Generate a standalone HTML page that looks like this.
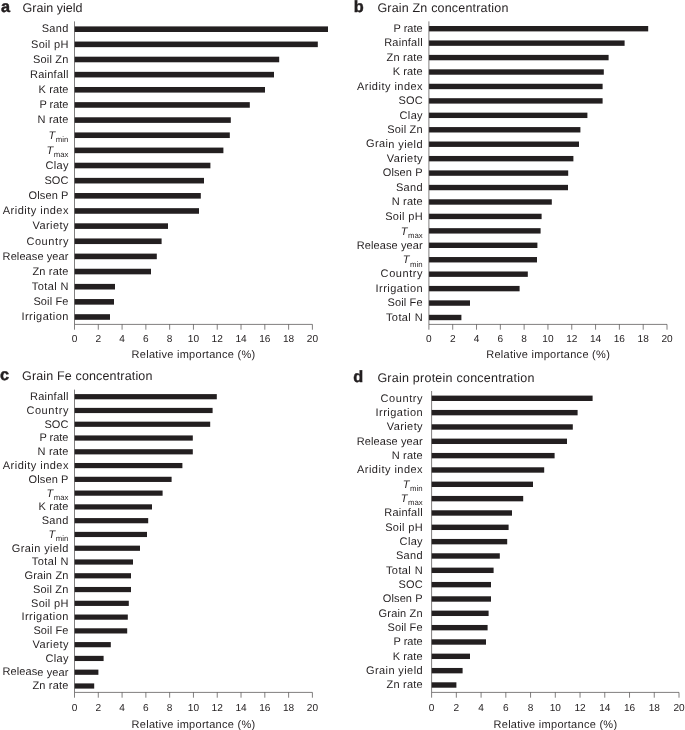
<!DOCTYPE html>
<html lang="en"><head><meta charset="utf-8"><title>Relative importance of predictors</title>
<style>
html,body{margin:0;padding:0;background:#fff;}
svg{display:block;opacity:0.999;will-change:transform;}
text{font-family:"Liberation Sans",sans-serif;fill:#231f20;text-rendering:geometricPrecision;}
.lb{font-size:11px;text-anchor:end;}
.ti{font-size:12.5px;}
.lt{font-size:16.3px;font-weight:bold;stroke:#231f20;stroke-width:0.45;}
.tk{font-size:10.1px;text-anchor:middle;}
.al{font-size:11px;text-anchor:middle;}
.it{font-size:11px;font-style:italic;text-anchor:end;}
.sb{font-size:7.8px;text-anchor:end;}
.bar{fill:#231f20;}
.ax{stroke:#4a4748;stroke-width:0.7;fill:none;}
</style></head><body>
<svg width="685" height="730" viewBox="0 0 685 730">
<rect x="0" y="0" width="685" height="730" fill="#ffffff"/>
<g>
<text class="lt" x="1.0" y="12.0" transform="rotate(0.025 1.0 12.0)">a</text>
<text class="ti" x="22.6" y="12.0" transform="rotate(0.025 22.6 12.0)" textLength="59.8" lengthAdjust="spacing">Grain yield</text>
<rect class="bar" x="74.5" y="26.40" width="253.5" height="5.6"/>
<text class="lb" x="68.4" y="32.50" transform="rotate(0.025 68.4 32.5)" textLength="26.7" lengthAdjust="spacing">Sand</text>
<rect class="bar" x="74.5" y="41.55" width="243.3" height="5.6"/>
<text class="lb" x="68.4" y="47.65" transform="rotate(0.025 68.4 47.6)" textLength="37.4" lengthAdjust="spacing">Soil pH</text>
<rect class="bar" x="74.5" y="56.69" width="204.7" height="5.6"/>
<text class="lb" x="68.4" y="62.79" transform="rotate(0.025 68.4 62.8)" textLength="35.4" lengthAdjust="spacing">Soil Zn</text>
<rect class="bar" x="74.5" y="71.84" width="199.5" height="5.6"/>
<text class="lb" x="68.4" y="77.94" transform="rotate(0.025 68.4 77.9)" textLength="38.4" lengthAdjust="spacing">Rainfall</text>
<rect class="bar" x="74.5" y="86.99" width="190.5" height="5.6"/>
<text class="lb" x="68.4" y="93.09" transform="rotate(0.025 68.4 93.1)" textLength="29.8" lengthAdjust="spacing">K rate</text>
<rect class="bar" x="74.5" y="102.14" width="175.3" height="5.6"/>
<text class="lb" x="68.4" y="108.23" transform="rotate(0.025 68.4 108.2)" textLength="29.0" lengthAdjust="spacing">P rate</text>
<rect class="bar" x="74.5" y="117.28" width="156.3" height="5.6"/>
<text class="lb" x="68.4" y="123.38" transform="rotate(0.025 68.4 123.4)" textLength="30.8" lengthAdjust="spacing">N rate</text>
<rect class="bar" x="74.5" y="132.43" width="155.3" height="5.6"/>
<text class="sb" x="68.4" y="142.03" transform="rotate(0.025 68.4 142.0)" textLength="12.6" lengthAdjust="spacing">min</text>
<text class="it" x="55.2" y="138.93" transform="rotate(0.025 55.2 138.9)">T</text>
<rect class="bar" x="74.5" y="147.58" width="148.9" height="5.6"/>
<text class="sb" x="68.4" y="157.18" transform="rotate(0.025 68.4 157.2)" textLength="14.6" lengthAdjust="spacing">max</text>
<text class="it" x="53.2" y="154.08" transform="rotate(0.025 53.2 154.1)">T</text>
<rect class="bar" x="74.5" y="162.72" width="135.9" height="5.6"/>
<text class="lb" x="68.4" y="168.82" transform="rotate(0.025 68.4 168.8)" textLength="23.0" lengthAdjust="spacing">Clay</text>
<rect class="bar" x="74.5" y="177.87" width="129.5" height="5.6"/>
<text class="lb" x="68.4" y="183.97" transform="rotate(0.025 68.4 184.0)" textLength="24.0" lengthAdjust="spacing">SOC</text>
<rect class="bar" x="74.5" y="193.02" width="126.3" height="5.6"/>
<text class="lb" x="68.4" y="199.12" transform="rotate(0.025 68.4 199.1)" textLength="39.8" lengthAdjust="spacing">Olsen P</text>
<rect class="bar" x="74.5" y="208.16" width="124.5" height="5.6"/>
<text class="lb" x="68.4" y="214.26" transform="rotate(0.025 68.4 214.3)" textLength="65.6" lengthAdjust="spacing">Aridity index</text>
<rect class="bar" x="74.5" y="223.31" width="93.5" height="5.6"/>
<text class="lb" x="68.4" y="229.41" transform="rotate(0.025 68.4 229.4)" textLength="35.8" lengthAdjust="spacing">Variety</text>
<rect class="bar" x="74.5" y="238.46" width="87.1" height="5.6"/>
<text class="lb" x="68.4" y="244.56" transform="rotate(0.025 68.4 244.6)" textLength="42.0" lengthAdjust="spacing">Country</text>
<rect class="bar" x="74.5" y="253.61" width="82.3" height="5.6"/>
<text class="lb" x="68.4" y="259.71" transform="rotate(0.025 68.4 259.7)" textLength="65.8" lengthAdjust="spacing">Release year</text>
<rect class="bar" x="74.5" y="268.75" width="76.5" height="5.6"/>
<text class="lb" x="68.4" y="274.85" transform="rotate(0.025 68.4 274.9)" textLength="36.0" lengthAdjust="spacing">Zn rate</text>
<rect class="bar" x="74.5" y="283.90" width="40.5" height="5.6"/>
<text class="lb" x="68.4" y="290.00" transform="rotate(0.025 68.4 290.0)" textLength="36.6" lengthAdjust="spacing">Total N</text>
<rect class="bar" x="74.5" y="299.05" width="39.5" height="5.6"/>
<text class="lb" x="68.4" y="305.15" transform="rotate(0.025 68.4 305.1)" textLength="35.0" lengthAdjust="spacing">Soil Fe</text>
<rect class="bar" x="74.5" y="314.19" width="35.5" height="5.6"/>
<text class="lb" x="68.4" y="320.29" transform="rotate(0.025 68.4 320.3)" textLength="47.0" lengthAdjust="spacing">Irrigation</text>
<path class="ax" d="M74.5 21.4V324.4H312.4M74.50 324.4v5.3M98.29 324.4v5.3M122.08 324.4v5.3M145.87 324.4v5.3M169.66 324.4v5.3M193.45 324.4v5.3M217.24 324.4v5.3M241.03 324.4v5.3M264.82 324.4v5.3M288.61 324.4v5.3M312.40 324.4v5.3"/>
<text class="tk" x="74.50" y="341.8" transform="rotate(0.025 74.5 341.8)">0</text>
<text class="tk" x="98.29" y="341.8" transform="rotate(0.025 98.3 341.8)">2</text>
<text class="tk" x="122.08" y="341.8" transform="rotate(0.025 122.1 341.8)">4</text>
<text class="tk" x="145.87" y="341.8" transform="rotate(0.025 145.9 341.8)">6</text>
<text class="tk" x="169.66" y="341.8" transform="rotate(0.025 169.7 341.8)">8</text>
<text class="tk" x="193.45" y="341.8" transform="rotate(0.025 193.4 341.8)">10</text>
<text class="tk" x="217.24" y="341.8" transform="rotate(0.025 217.2 341.8)">12</text>
<text class="tk" x="241.03" y="341.8" transform="rotate(0.025 241.0 341.8)">14</text>
<text class="tk" x="264.82" y="341.8" transform="rotate(0.025 264.8 341.8)">16</text>
<text class="tk" x="288.61" y="341.8" transform="rotate(0.025 288.6 341.8)">18</text>
<text class="tk" x="312.40" y="341.8" transform="rotate(0.025 312.4 341.8)">20</text>
<text class="al" x="193.4" y="357.7" transform="rotate(0.025 193.4 357.7)" textLength="123.6" lengthAdjust="spacing">Relative importance (%)</text>
</g>
<g>
<text class="lt" x="353.8" y="12.3" transform="rotate(0.025 353.8 12.3)">b</text>
<text class="ti" x="377.4" y="12.3" transform="rotate(0.025 377.4 12.3)" textLength="131.0" lengthAdjust="spacing">Grain Zn concentration</text>
<rect class="bar" x="428.9" y="26.00" width="219.3" height="5.4"/>
<text class="lb" x="422.6" y="32.00" transform="rotate(0.025 422.6 32.0)" textLength="29.0" lengthAdjust="spacing">P rate</text>
<rect class="bar" x="428.9" y="40.44" width="195.7" height="5.4"/>
<text class="lb" x="422.6" y="46.44" transform="rotate(0.025 422.6 46.4)" textLength="38.4" lengthAdjust="spacing">Rainfall</text>
<rect class="bar" x="428.9" y="54.88" width="179.7" height="5.4"/>
<text class="lb" x="422.6" y="60.88" transform="rotate(0.025 422.6 60.9)" textLength="36.0" lengthAdjust="spacing">Zn rate</text>
<rect class="bar" x="428.9" y="69.32" width="174.9" height="5.4"/>
<text class="lb" x="422.6" y="75.32" transform="rotate(0.025 422.6 75.3)" textLength="29.8" lengthAdjust="spacing">K rate</text>
<rect class="bar" x="428.9" y="83.76" width="173.7" height="5.4"/>
<text class="lb" x="422.6" y="89.76" transform="rotate(0.025 422.6 89.8)" textLength="65.6" lengthAdjust="spacing">Aridity index</text>
<rect class="bar" x="428.9" y="98.20" width="173.7" height="5.4"/>
<text class="lb" x="422.6" y="104.20" transform="rotate(0.025 422.6 104.2)" textLength="24.0" lengthAdjust="spacing">SOC</text>
<rect class="bar" x="428.9" y="112.64" width="158.5" height="5.4"/>
<text class="lb" x="422.6" y="118.64" transform="rotate(0.025 422.6 118.6)" textLength="23.0" lengthAdjust="spacing">Clay</text>
<rect class="bar" x="428.9" y="127.08" width="151.5" height="5.4"/>
<text class="lb" x="422.6" y="133.08" transform="rotate(0.025 422.6 133.1)" textLength="35.4" lengthAdjust="spacing">Soil Zn</text>
<rect class="bar" x="428.9" y="141.52" width="150.1" height="5.4"/>
<text class="lb" x="422.6" y="147.52" transform="rotate(0.025 422.6 147.5)" textLength="56.6" lengthAdjust="spacing">Grain yield</text>
<rect class="bar" x="428.9" y="155.96" width="144.5" height="5.4"/>
<text class="lb" x="422.6" y="161.96" transform="rotate(0.025 422.6 162.0)" textLength="35.8" lengthAdjust="spacing">Variety</text>
<rect class="bar" x="428.9" y="170.40" width="139.3" height="5.4"/>
<text class="lb" x="422.6" y="176.40" transform="rotate(0.025 422.6 176.4)" textLength="39.8" lengthAdjust="spacing">Olsen P</text>
<rect class="bar" x="428.9" y="184.84" width="139.1" height="5.4"/>
<text class="lb" x="422.6" y="190.84" transform="rotate(0.025 422.6 190.8)" textLength="26.7" lengthAdjust="spacing">Sand</text>
<rect class="bar" x="428.9" y="199.28" width="122.9" height="5.4"/>
<text class="lb" x="422.6" y="205.28" transform="rotate(0.025 422.6 205.3)" textLength="30.8" lengthAdjust="spacing">N rate</text>
<rect class="bar" x="428.9" y="213.72" width="112.7" height="5.4"/>
<text class="lb" x="422.6" y="219.72" transform="rotate(0.025 422.6 219.7)" textLength="37.4" lengthAdjust="spacing">Soil pH</text>
<rect class="bar" x="428.9" y="228.16" width="111.7" height="5.4"/>
<text class="sb" x="422.6" y="237.66" transform="rotate(0.025 422.6 237.7)" textLength="14.6" lengthAdjust="spacing">max</text>
<text class="it" x="407.4" y="234.56" transform="rotate(0.025 407.4 234.6)">T</text>
<rect class="bar" x="428.9" y="242.60" width="108.5" height="5.4"/>
<text class="lb" x="422.6" y="248.60" transform="rotate(0.025 422.6 248.6)" textLength="65.8" lengthAdjust="spacing">Release year</text>
<rect class="bar" x="428.9" y="257.04" width="108.1" height="5.4"/>
<text class="sb" x="422.6" y="266.54" transform="rotate(0.025 422.6 266.5)" textLength="12.6" lengthAdjust="spacing">min</text>
<text class="it" x="409.4" y="263.44" transform="rotate(0.025 409.4 263.4)">T</text>
<rect class="bar" x="428.9" y="271.48" width="98.9" height="5.4"/>
<text class="lb" x="422.6" y="277.48" transform="rotate(0.025 422.6 277.5)" textLength="42.0" lengthAdjust="spacing">Country</text>
<rect class="bar" x="428.9" y="285.92" width="90.7" height="5.4"/>
<text class="lb" x="422.6" y="291.92" transform="rotate(0.025 422.6 291.9)" textLength="47.0" lengthAdjust="spacing">Irrigation</text>
<rect class="bar" x="428.9" y="300.36" width="41.1" height="5.4"/>
<text class="lb" x="422.6" y="306.36" transform="rotate(0.025 422.6 306.4)" textLength="35.0" lengthAdjust="spacing">Soil Fe</text>
<rect class="bar" x="428.9" y="314.80" width="32.5" height="5.4"/>
<text class="lb" x="422.6" y="320.80" transform="rotate(0.025 422.6 320.8)" textLength="36.6" lengthAdjust="spacing">Total N</text>
<path class="ax" d="M428.9 21.4V324.4H667.0M428.90 324.4v5.3M452.71 324.4v5.3M476.52 324.4v5.3M500.33 324.4v5.3M524.14 324.4v5.3M547.95 324.4v5.3M571.76 324.4v5.3M595.57 324.4v5.3M619.38 324.4v5.3M643.19 324.4v5.3M667.00 324.4v5.3"/>
<text class="tk" x="428.90" y="341.8" transform="rotate(0.025 428.9 341.8)">0</text>
<text class="tk" x="452.71" y="341.8" transform="rotate(0.025 452.7 341.8)">2</text>
<text class="tk" x="476.52" y="341.8" transform="rotate(0.025 476.5 341.8)">4</text>
<text class="tk" x="500.33" y="341.8" transform="rotate(0.025 500.3 341.8)">6</text>
<text class="tk" x="524.14" y="341.8" transform="rotate(0.025 524.1 341.8)">8</text>
<text class="tk" x="547.95" y="341.8" transform="rotate(0.025 548.0 341.8)">10</text>
<text class="tk" x="571.76" y="341.8" transform="rotate(0.025 571.8 341.8)">12</text>
<text class="tk" x="595.57" y="341.8" transform="rotate(0.025 595.6 341.8)">14</text>
<text class="tk" x="619.38" y="341.8" transform="rotate(0.025 619.4 341.8)">16</text>
<text class="tk" x="643.19" y="341.8" transform="rotate(0.025 643.2 341.8)">18</text>
<text class="tk" x="667.00" y="341.8" transform="rotate(0.025 667.0 341.8)">20</text>
<text class="al" x="548.0" y="357.7" transform="rotate(0.025 548.0 357.7)" textLength="123.6" lengthAdjust="spacing">Relative importance (%)</text>
</g>
<g>
<text class="lt" x="0.0" y="380.4" transform="rotate(0.025 0.0 380.4)">c</text>
<text class="ti" x="22.0" y="380.4" transform="rotate(0.025 22.0 380.4)" textLength="130.4" lengthAdjust="spacing">Grain Fe concentration</text>
<rect class="bar" x="74.5" y="394.10" width="142.3" height="5.2"/>
<text class="lb" x="68.4" y="400.00" transform="rotate(0.025 68.4 400.0)" textLength="38.4" lengthAdjust="spacing">Rainfall</text>
<rect class="bar" x="74.5" y="407.88" width="138.1" height="5.2"/>
<text class="lb" x="68.4" y="413.78" transform="rotate(0.025 68.4 413.8)" textLength="42.0" lengthAdjust="spacing">Country</text>
<rect class="bar" x="74.5" y="421.65" width="135.7" height="5.2"/>
<text class="lb" x="68.4" y="427.55" transform="rotate(0.025 68.4 427.6)" textLength="24.0" lengthAdjust="spacing">SOC</text>
<rect class="bar" x="74.5" y="435.43" width="118.3" height="5.2"/>
<text class="lb" x="68.4" y="441.33" transform="rotate(0.025 68.4 441.3)" textLength="29.0" lengthAdjust="spacing">P rate</text>
<rect class="bar" x="74.5" y="449.20" width="118.3" height="5.2"/>
<text class="lb" x="68.4" y="455.10" transform="rotate(0.025 68.4 455.1)" textLength="30.8" lengthAdjust="spacing">N rate</text>
<rect class="bar" x="74.5" y="462.98" width="107.9" height="5.2"/>
<text class="lb" x="68.4" y="468.88" transform="rotate(0.025 68.4 468.9)" textLength="65.6" lengthAdjust="spacing">Aridity index</text>
<rect class="bar" x="74.5" y="476.76" width="97.1" height="5.2"/>
<text class="lb" x="68.4" y="482.66" transform="rotate(0.025 68.4 482.7)" textLength="39.8" lengthAdjust="spacing">Olsen P</text>
<rect class="bar" x="74.5" y="490.53" width="88.1" height="5.2"/>
<text class="sb" x="68.4" y="499.93" transform="rotate(0.025 68.4 499.9)" textLength="14.6" lengthAdjust="spacing">max</text>
<text class="it" x="53.2" y="496.83" transform="rotate(0.025 53.2 496.8)">T</text>
<rect class="bar" x="74.5" y="504.31" width="77.5" height="5.2"/>
<text class="lb" x="68.4" y="510.21" transform="rotate(0.025 68.4 510.2)" textLength="29.8" lengthAdjust="spacing">K rate</text>
<rect class="bar" x="74.5" y="518.08" width="73.7" height="5.2"/>
<text class="lb" x="68.4" y="523.98" transform="rotate(0.025 68.4 524.0)" textLength="26.7" lengthAdjust="spacing">Sand</text>
<rect class="bar" x="74.5" y="531.86" width="72.5" height="5.2"/>
<text class="sb" x="68.4" y="541.26" transform="rotate(0.025 68.4 541.3)" textLength="12.6" lengthAdjust="spacing">min</text>
<text class="it" x="55.2" y="538.16" transform="rotate(0.025 55.2 538.2)">T</text>
<rect class="bar" x="74.5" y="545.64" width="65.5" height="5.2"/>
<text class="lb" x="68.4" y="551.54" transform="rotate(0.025 68.4 551.5)" textLength="56.6" lengthAdjust="spacing">Grain yield</text>
<rect class="bar" x="74.5" y="559.41" width="58.5" height="5.2"/>
<text class="lb" x="68.4" y="565.31" transform="rotate(0.025 68.4 565.3)" textLength="36.6" lengthAdjust="spacing">Total N</text>
<rect class="bar" x="74.5" y="573.19" width="56.5" height="5.2"/>
<text class="lb" x="68.4" y="579.09" transform="rotate(0.025 68.4 579.1)" textLength="44.0" lengthAdjust="spacing">Grain Zn</text>
<rect class="bar" x="74.5" y="586.96" width="56.5" height="5.2"/>
<text class="lb" x="68.4" y="592.86" transform="rotate(0.025 68.4 592.9)" textLength="35.4" lengthAdjust="spacing">Soil Zn</text>
<rect class="bar" x="74.5" y="600.74" width="54.3" height="5.2"/>
<text class="lb" x="68.4" y="606.64" transform="rotate(0.025 68.4 606.6)" textLength="37.4" lengthAdjust="spacing">Soil pH</text>
<rect class="bar" x="74.5" y="614.52" width="53.3" height="5.2"/>
<text class="lb" x="68.4" y="620.42" transform="rotate(0.025 68.4 620.4)" textLength="47.0" lengthAdjust="spacing">Irrigation</text>
<rect class="bar" x="74.5" y="628.29" width="52.7" height="5.2"/>
<text class="lb" x="68.4" y="634.19" transform="rotate(0.025 68.4 634.2)" textLength="35.0" lengthAdjust="spacing">Soil Fe</text>
<rect class="bar" x="74.5" y="642.07" width="36.3" height="5.2"/>
<text class="lb" x="68.4" y="647.97" transform="rotate(0.025 68.4 648.0)" textLength="35.8" lengthAdjust="spacing">Variety</text>
<rect class="bar" x="74.5" y="655.84" width="29.1" height="5.2"/>
<text class="lb" x="68.4" y="661.74" transform="rotate(0.025 68.4 661.7)" textLength="23.0" lengthAdjust="spacing">Clay</text>
<rect class="bar" x="74.5" y="669.62" width="23.9" height="5.2"/>
<text class="lb" x="68.4" y="675.52" transform="rotate(0.025 68.4 675.5)" textLength="65.8" lengthAdjust="spacing">Release year</text>
<rect class="bar" x="74.5" y="683.40" width="19.7" height="5.2"/>
<text class="lb" x="68.4" y="689.30" transform="rotate(0.025 68.4 689.3)" textLength="36.0" lengthAdjust="spacing">Zn rate</text>
<path class="ax" d="M74.5 389.6V692.4H312.4M74.50 692.4v5.3M98.29 692.4v5.3M122.08 692.4v5.3M145.87 692.4v5.3M169.66 692.4v5.3M193.45 692.4v5.3M217.24 692.4v5.3M241.03 692.4v5.3M264.82 692.4v5.3M288.61 692.4v5.3M312.40 692.4v5.3"/>
<text class="tk" x="74.50" y="711.0" transform="rotate(0.025 74.5 711.0)">0</text>
<text class="tk" x="98.29" y="711.0" transform="rotate(0.025 98.3 711.0)">2</text>
<text class="tk" x="122.08" y="711.0" transform="rotate(0.025 122.1 711.0)">4</text>
<text class="tk" x="145.87" y="711.0" transform="rotate(0.025 145.9 711.0)">6</text>
<text class="tk" x="169.66" y="711.0" transform="rotate(0.025 169.7 711.0)">8</text>
<text class="tk" x="193.45" y="711.0" transform="rotate(0.025 193.4 711.0)">10</text>
<text class="tk" x="217.24" y="711.0" transform="rotate(0.025 217.2 711.0)">12</text>
<text class="tk" x="241.03" y="711.0" transform="rotate(0.025 241.0 711.0)">14</text>
<text class="tk" x="264.82" y="711.0" transform="rotate(0.025 264.8 711.0)">16</text>
<text class="tk" x="288.61" y="711.0" transform="rotate(0.025 288.6 711.0)">18</text>
<text class="tk" x="312.40" y="711.0" transform="rotate(0.025 312.4 711.0)">20</text>
<text class="al" x="193.4" y="727.7" transform="rotate(0.025 193.4 727.7)" textLength="123.6" lengthAdjust="spacing">Relative importance (%)</text>
</g>
<g>
<text class="lt" x="353.2" y="382.0" transform="rotate(0.025 353.2 382.0)">d</text>
<text class="ti" x="377.4" y="382.0" transform="rotate(0.025 377.4 382.0)" textLength="157.0" lengthAdjust="spacing">Grain protein concentration</text>
<rect class="bar" x="431.6" y="395.60" width="161.0" height="5.4"/>
<text class="lb" x="422.6" y="401.60" transform="rotate(0.025 422.6 401.6)" textLength="42.0" lengthAdjust="spacing">Country</text>
<rect class="bar" x="431.6" y="409.94" width="146.0" height="5.4"/>
<text class="lb" x="422.6" y="415.94" transform="rotate(0.025 422.6 415.9)" textLength="47.0" lengthAdjust="spacing">Irrigation</text>
<rect class="bar" x="431.6" y="424.27" width="141.2" height="5.4"/>
<text class="lb" x="422.6" y="430.27" transform="rotate(0.025 422.6 430.3)" textLength="35.8" lengthAdjust="spacing">Variety</text>
<rect class="bar" x="431.6" y="438.61" width="135.4" height="5.4"/>
<text class="lb" x="422.6" y="444.61" transform="rotate(0.025 422.6 444.6)" textLength="65.8" lengthAdjust="spacing">Release year</text>
<rect class="bar" x="431.6" y="452.94" width="123.0" height="5.4"/>
<text class="lb" x="422.6" y="458.94" transform="rotate(0.025 422.6 458.9)" textLength="30.8" lengthAdjust="spacing">N rate</text>
<rect class="bar" x="431.6" y="467.28" width="112.6" height="5.4"/>
<text class="lb" x="422.6" y="473.28" transform="rotate(0.025 422.6 473.3)" textLength="65.6" lengthAdjust="spacing">Aridity index</text>
<rect class="bar" x="431.6" y="481.61" width="101.4" height="5.4"/>
<text class="sb" x="422.6" y="491.11" transform="rotate(0.025 422.6 491.1)" textLength="12.6" lengthAdjust="spacing">min</text>
<text class="it" x="409.4" y="488.01" transform="rotate(0.025 409.4 488.0)">T</text>
<rect class="bar" x="431.6" y="495.94" width="91.6" height="5.4"/>
<text class="sb" x="422.6" y="505.44" transform="rotate(0.025 422.6 505.4)" textLength="14.6" lengthAdjust="spacing">max</text>
<text class="it" x="407.4" y="502.34" transform="rotate(0.025 407.4 502.3)">T</text>
<rect class="bar" x="431.6" y="510.28" width="80.4" height="5.4"/>
<text class="lb" x="422.6" y="516.28" transform="rotate(0.025 422.6 516.3)" textLength="38.4" lengthAdjust="spacing">Rainfall</text>
<rect class="bar" x="431.6" y="524.62" width="77.0" height="5.4"/>
<text class="lb" x="422.6" y="530.62" transform="rotate(0.025 422.6 530.6)" textLength="37.4" lengthAdjust="spacing">Soil pH</text>
<rect class="bar" x="431.6" y="538.95" width="75.6" height="5.4"/>
<text class="lb" x="422.6" y="544.95" transform="rotate(0.025 422.6 545.0)" textLength="23.0" lengthAdjust="spacing">Clay</text>
<rect class="bar" x="431.6" y="553.28" width="68.2" height="5.4"/>
<text class="lb" x="422.6" y="559.28" transform="rotate(0.025 422.6 559.3)" textLength="26.7" lengthAdjust="spacing">Sand</text>
<rect class="bar" x="431.6" y="567.62" width="62.0" height="5.4"/>
<text class="lb" x="422.6" y="573.62" transform="rotate(0.025 422.6 573.6)" textLength="36.6" lengthAdjust="spacing">Total N</text>
<rect class="bar" x="431.6" y="581.95" width="59.4" height="5.4"/>
<text class="lb" x="422.6" y="587.95" transform="rotate(0.025 422.6 588.0)" textLength="24.0" lengthAdjust="spacing">SOC</text>
<rect class="bar" x="431.6" y="596.29" width="59.4" height="5.4"/>
<text class="lb" x="422.6" y="602.29" transform="rotate(0.025 422.6 602.3)" textLength="39.8" lengthAdjust="spacing">Olsen P</text>
<rect class="bar" x="431.6" y="610.62" width="57.0" height="5.4"/>
<text class="lb" x="422.6" y="616.62" transform="rotate(0.025 422.6 616.6)" textLength="44.0" lengthAdjust="spacing">Grain Zn</text>
<rect class="bar" x="431.6" y="624.96" width="56.0" height="5.4"/>
<text class="lb" x="422.6" y="630.96" transform="rotate(0.025 422.6 631.0)" textLength="35.0" lengthAdjust="spacing">Soil Fe</text>
<rect class="bar" x="431.6" y="639.29" width="54.4" height="5.4"/>
<text class="lb" x="422.6" y="645.29" transform="rotate(0.025 422.6 645.3)" textLength="29.0" lengthAdjust="spacing">P rate</text>
<rect class="bar" x="431.6" y="653.63" width="38.4" height="5.4"/>
<text class="lb" x="422.6" y="659.63" transform="rotate(0.025 422.6 659.6)" textLength="29.8" lengthAdjust="spacing">K rate</text>
<rect class="bar" x="431.6" y="667.96" width="31.0" height="5.4"/>
<text class="lb" x="422.6" y="673.96" transform="rotate(0.025 422.6 674.0)" textLength="56.6" lengthAdjust="spacing">Grain yield</text>
<rect class="bar" x="431.6" y="682.30" width="24.8" height="5.4"/>
<text class="lb" x="422.6" y="688.30" transform="rotate(0.025 422.6 688.3)" textLength="36.0" lengthAdjust="spacing">Zn rate</text>
<path class="ax" d="M431.6 391.0V692.4H679.0M431.60 692.4v5.3M456.34 692.4v5.3M481.08 692.4v5.3M505.82 692.4v5.3M530.56 692.4v5.3M555.30 692.4v5.3M580.04 692.4v5.3M604.78 692.4v5.3M629.52 692.4v5.3M654.26 692.4v5.3M679.00 692.4v5.3"/>
<text class="tk" x="431.60" y="711.0" transform="rotate(0.025 431.6 711.0)">0</text>
<text class="tk" x="456.34" y="711.0" transform="rotate(0.025 456.3 711.0)">2</text>
<text class="tk" x="481.08" y="711.0" transform="rotate(0.025 481.1 711.0)">4</text>
<text class="tk" x="505.82" y="711.0" transform="rotate(0.025 505.8 711.0)">6</text>
<text class="tk" x="530.56" y="711.0" transform="rotate(0.025 530.6 711.0)">8</text>
<text class="tk" x="555.30" y="711.0" transform="rotate(0.025 555.3 711.0)">10</text>
<text class="tk" x="580.04" y="711.0" transform="rotate(0.025 580.0 711.0)">12</text>
<text class="tk" x="604.78" y="711.0" transform="rotate(0.025 604.8 711.0)">14</text>
<text class="tk" x="629.52" y="711.0" transform="rotate(0.025 629.5 711.0)">16</text>
<text class="tk" x="654.26" y="711.0" transform="rotate(0.025 654.3 711.0)">18</text>
<text class="tk" x="679.00" y="711.0" transform="rotate(0.025 679.0 711.0)">20</text>
<text class="al" x="555.3" y="727.7" transform="rotate(0.025 555.3 727.7)" textLength="123.6" lengthAdjust="spacing">Relative importance (%)</text>
</g>
</svg></body></html>
